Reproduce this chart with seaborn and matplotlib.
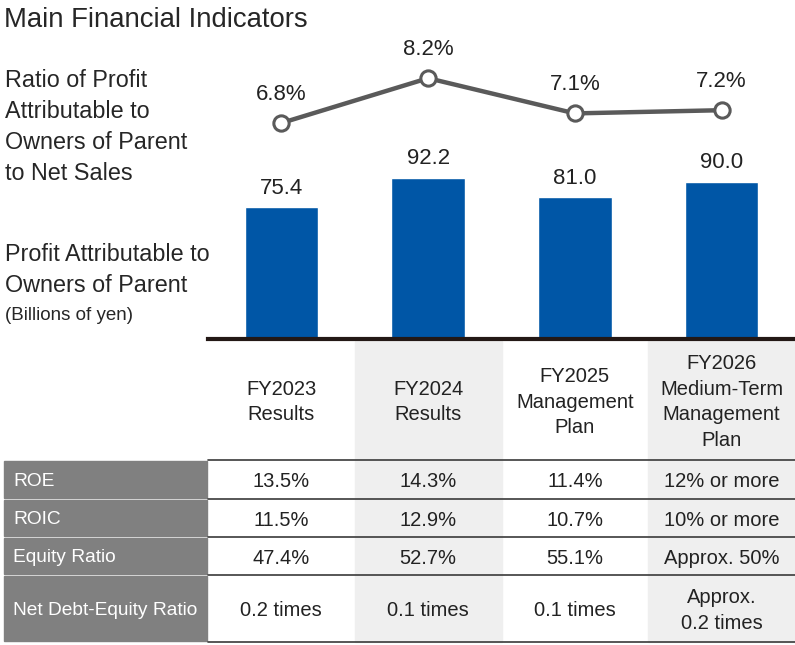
import numpy as np
import matplotlib
matplotlib.use("Agg")
import matplotlib.pyplot as plt
from matplotlib.patches import Rectangle
import seaborn as sns

# chart data
periods = ["FY2023", "FY2024", "FY2025", "FY2026"]
period_labels = ["FY2023\nResults", "FY2024\nResults",
                 "FY2025\nManagement\nPlan",
                 "FY2026\nMedium-Term\nManagement\nPlan"]
profit = [75.4, 92.2, 81.0, 90.0]          # billions of yen
profit_ratio = [6.8, 8.2, 7.1, 7.2]        # % of net sales

# table data
row_names = ["ROE", "ROIC", "Equity Ratio", "Net Debt-Equity Ratio"]
roe = ["13.5%", "14.3%", "11.4%", "12% or more"]
roic = ["11.5%", "12.9%", "10.7%", "10% or more"]
equity_ratio = ["47.4%", "52.7%", "55.1%", "Approx. 50%"]
net_de_ratio = ["0.2 times", "0.1 times", "0.1 times", "Approx.\n0.2 times"]

BLUE = "#0056a6"
LINE_GRAY = "#5a5a5a"
DARK = "#231815"
TEXT = "#222222"
CELL_GRAY = "#808080"
BAND_GRAY = "#efefef"

sns.set_theme(style="white")
plt.rcParams["font.family"] = ["Liberation Sans", "DejaVu Sans"]

W, H = 795, 645
fig = plt.figure(figsize=(W / 100, H / 100), dpi=100)


def fx(px):
    return px / W


def fy(py):
    return 1 - py / H


# plot area (pixels measured from top-left)
left, right, base, top = 208, 795, 339, 40
bar_scale = 1.75   # px per billion yen
rect = [fx(left), fy(base), (right - left) / W, (base - top) / H]

ax = fig.add_axes(rect)
sns.barplot(x=periods, y=profit, ax=ax, color=BLUE, width=0.5, saturation=1)
ax.set_xlim(-0.5, len(periods) - 0.5)
ax.set_ylim(0, (base - top) / bar_scale)
ax.bar_label(ax.containers[0], fmt="%.1f", padding=6, fontsize=16, color=TEXT)
ax.set_xticks([])
ax.set_yticks([])
ax.set_xlabel("")
ax.set_ylabel("")
for s in ["top", "left", "right"]:
    ax.spines[s].set_visible(False)
ax.spines["bottom"].set_linewidth(3)
ax.spines["bottom"].set_color(DARK)
ax.patch.set_alpha(0)

# line on its own scale
ax2 = fig.add_axes(rect)
x = np.arange(len(periods))
sns.lineplot(x=x, y=profit_ratio, ax=ax2, color=LINE_GRAY, lw=3.2,
             marker="o", markersize=11, markerfacecolor="white",
             markeredgecolor=LINE_GRAY, markeredgewidth=2.2)
ax2.set_xlim(-0.5, len(periods) - 0.5)
ax2.set_ylim(6.8 - (base - 123) / 32, 6.8 + (123 - top) / 32)
for xi, v in zip(x, profit_ratio):
    ax2.annotate(f"{v}%", (xi, v), xytext=(0, 13), textcoords="offset points",
                 ha="center", va="bottom", fontsize=16, color=TEXT)
ax2.axis("off")

# titles and left labels
fig.text(fx(4), fy(27), "Main Financial Indicators", fontsize=19.8, va="baseline")
fig.text(fx(5), fy(127), "Ratio of Profit\nAttributable to\nOwners of Parent\nto Net Sales",
         fontsize=16.8, va="center", linespacing=1.45)
fig.text(fx(5), fy(270), "Profit Attributable to\nOwners of Parent",
         fontsize=16.8, va="center", linespacing=1.45)
fig.text(fx(5), fy(315), "(Billions of yen)", fontsize=13.5, va="center")

# table
col_w = (right - left) / len(periods)
col_edges = [left + col_w * i for i in range(len(periods) + 1)]
row_edges = [460, 499, 537, 575, 642]
table_rows = [roe, roic, equity_ratio, net_de_ratio]

for i in (1, 3):
    fig.patches.append(Rectangle((fx(col_edges[i]), fy(row_edges[-1])),
                                 col_w / W, (row_edges[-1] - base - 2) / H,
                                 transform=fig.transFigure, color=BAND_GRAY, zorder=-1))

for i, lab in enumerate(period_labels):
    fig.text(fx((col_edges[i] + col_edges[i + 1]) / 2), fy(402), lab, ha="center",
             va="center", fontsize=14.5, linespacing=1.46, color=TEXT)

for r, (name, vals) in enumerate(zip(row_names, table_rows)):
    y0, y1 = row_edges[r], row_edges[r + 1]
    yc = (y0 + y1) / 2 + 2
    fig.patches.append(Rectangle((fx(4), fy(y1 - 1)), 203 / W, (y1 - y0 - 2) / H,
                                 transform=fig.transFigure, color=CELL_GRAY, zorder=0))
    fig.text(fx(13), fy(yc), name, ha="left", va="center", fontsize=13.8,
             color="white")
    for i, v in enumerate(vals):
        fig.text(fx((col_edges[i] + col_edges[i + 1]) / 2), fy(yc), v, ha="center",
                 va="center", fontsize=14.5, linespacing=1.45, color=TEXT)

for y in row_edges:
    fig.lines.append(plt.Line2D([fx(left), fx(right)], [fy(y), fy(y)],
                                transform=fig.transFigure, color="#3a3a3a", lw=1.2))

fig.savefig("out.png", dpi=100)
